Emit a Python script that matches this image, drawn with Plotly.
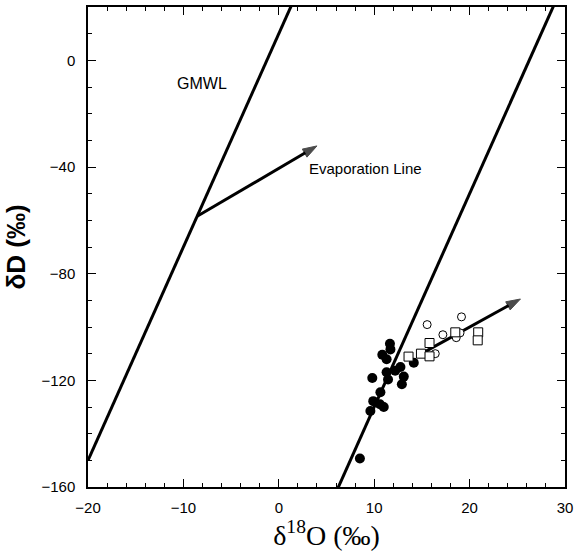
import numpy as np
import plotly.graph_objects as go

# ---- data ----
filled_d18o = [11.65, 11.7, 10.85, 11.3, 11.3, 12.2, 12.75, 13.1, 14.15, 9.8,
               11.45, 12.9, 10.65, 9.9, 11.0, 10.6, 9.6, 8.5]
filled_dD = [-106.3, -108.4, -110.4, -112.1, -117.0, -116.4, -115.0, -118.6, -113.4, -119.1,
             -119.7, -121.5, -124.5, -127.8, -130.0, -129.0, -131.5, -149.3]

open_circ_d18o = [15.55, 17.2, 19.15, 18.6, 19.0, 16.4]
open_circ_dD = [-99.1, -102.9, -96.2, -104.0, -102.2, -110.0]

square_d18o = [13.6, 14.9, 15.8, 15.8, 18.5, 20.9, 20.85]
square_dD = [-111.1, -110.0, -106.0, -111.0, -102.0, -102.0, -105.0]

# meteoric water lines: dD = slope * d18O + intercept
gmwl_slope = 8.0
gmwl_intercept = 10.0
local_slope = 8.0
local_intercept = -210.0

# evaporation arrows (start -> end) in data units
evap_upper_x = [-8.56, 4.0]
evap_upper_y = [-58.5, -32.1]
evap_lower_x = [15.2, 25.33]
evap_lower_y = [-109.5, -89.5]

x_range = [-20, 30]
y_range = [-160, 20]
x_ticks = [-20, -10, 0, 10, 20, 30]
y_ticks = [-160, -120, -80, -40, 0]

FONT = "Arial, Liberation Sans, sans-serif"

xs = np.array(x_range, dtype=float)

fig = go.Figure()
fig.add_trace(go.Scatter(x=xs, y=gmwl_slope * xs + gmwl_intercept, mode="lines",
                         line=dict(color="black", width=3), showlegend=False, hoverinfo="skip"))
fig.add_trace(go.Scatter(x=xs, y=local_slope * xs + local_intercept, mode="lines",
                         line=dict(color="black", width=3), showlegend=False, hoverinfo="skip"))

for ex, ey in ((evap_upper_x, evap_upper_y), (evap_lower_x, evap_lower_y)):
    fig.add_trace(go.Scatter(x=ex, y=ey, mode="lines+markers",
                             line=dict(color="black", width=3),
                             marker=dict(symbol=["circle", "arrow"], size=[0, 15],
                                         angleref="previous", color="black",
                                         line=dict(color="black", width=1)),
                             showlegend=False, hoverinfo="skip"))

fig.add_trace(go.Scatter(x=filled_d18o, y=filled_dD, mode="markers",
                         marker=dict(symbol="circle", size=10, color="black",
                                     line=dict(color="black", width=0)),
                         showlegend=False))
fig.add_trace(go.Scatter(x=open_circ_d18o, y=open_circ_dD, mode="markers",
                         marker=dict(symbol="circle", size=8, color="white",
                                     line=dict(color="black", width=1)),
                         showlegend=False))
fig.add_trace(go.Scatter(x=square_d18o, y=square_dD, mode="markers",
                         marker=dict(symbol="square", size=9, color="white",
                                     line=dict(color="black", width=1)),
                         showlegend=False))

fig.add_annotation(x=-8.1, y=-8.5, text="GMWL", showarrow=False,
                   font=dict(family=FONT, size=16, color="black"))
fig.add_annotation(x=3.0, y=-40.4, text="Evaporation Line", showarrow=False, xanchor="left",
                   font=dict(family=FONT, size=15, color="black"))

axis_common = dict(showgrid=False, zeroline=False, showline=True, linecolor="black",
                   linewidth=1.5, mirror="ticks", ticks="inside", tickcolor="black",
                   tickwidth=1.2, ticklen=8, ticklabeloverflow="allow",
                   tickfont=dict(family=FONT, size=15, color="black"))

fig.update_xaxes(range=x_range, tickvals=x_ticks, **axis_common, ticklabelstandoff=6,
                 minor=dict(dtick=2, ticks="inside", ticklen=4, tickcolor="black", tickwidth=1.2),
                 title=dict(text="δ<sup>18</sup>O (‰)",
                            font=dict(family="Times New Roman, Liberation Serif, serif", size=28,
                                      color="black"),
                            standoff=4))
fig.update_yaxes(range=y_range, tickvals=y_ticks, **axis_common, ticklabelstandoff=8,
                 minor=dict(dtick=10, ticks="inside", ticklen=4, tickcolor="black", tickwidth=1.2),
                 title=dict(text="<b>δD (‰)</b>",
                            font=dict(family=FONT, size=26, color="black"),
                            standoff=8))

fig.update_layout(width=578, height=554, margin=dict(l=88, r=8, t=5, b=67),
                  paper_bgcolor="white", plot_bgcolor="white")

fig.write_html("out.html")
